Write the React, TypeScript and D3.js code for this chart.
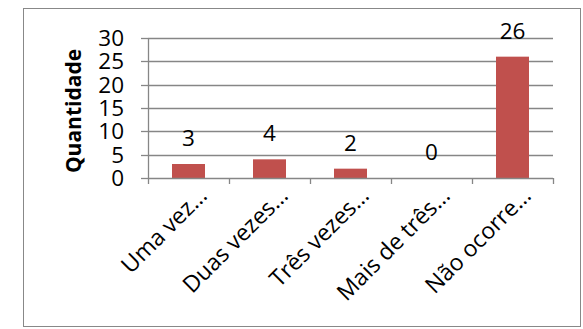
import React from "react";
import * as d3 from "d3";

const categories = ["Uma vez…", "Duas vezes…", "Três vezes…", "Mais de três…", "Não ocorre…"];
const values = [3, 4, 2, 0, 26];
const yTicks = [0, 5, 10, 15, 20, 25, 30];
const yTitle = "Quantidade";

export default function App() {
  const W = 583, H = 329;
  const band = d3.scaleBand().domain(categories).range([148, 553]);
  const y = d3.scaleLinear().domain([0, 30]).range([178, 38]);
  const font = "'Open Sans', sans-serif";
  const grid = "#868686";
  return (
    <svg width={W} height={H} style={{ position: "absolute", left: 0, top: 0 }}>
      <rect x={0} y={0} width={W} height={H} fill="#fff" />
      <rect x={23.5} y={8.5} width={557} height={318} fill="#fff" stroke="#888" strokeWidth={1} />
      {yTicks.map((t) => (
        <g key={t}>
          {t > 0 && <line x1={148} x2={553} y1={Math.round(y(t)) + 0.5} y2={Math.round(y(t)) + 0.5} stroke={grid} strokeWidth={1.3} />}
          <line x1={141} x2={148} y1={Math.round(y(t)) + 0.5} y2={Math.round(y(t)) + 0.5} stroke={grid} strokeWidth={1.3} />
          <text x={124} y={y(t)} dy="0.36em" textAnchor="end" fontFamily={font} fontSize={22.5} fill="#000">{t}</text>
        </g>
      ))}
      {values.map((v, i) => {
        const c = categories[i];
        const bx = band(c)! + band.bandwidth() / 2;
        const bw = 33;
        return (
          <g key={c}>
            <rect x={bx - bw / 2} y={y(v)} width={bw} height={y(0) - y(v)} fill="#C0504D" />
            <text x={bx} y={y(v) - 26} dy="0.36em" textAnchor="middle" fontFamily={font} fontSize={22.5} fill="#000">{v}</text>
          </g>
        );
      })}
      <line x1={148.5} x2={148.5} y1={38} y2={178} stroke={grid} strokeWidth={1.3} />
      <line x1={148} x2={553} y1={178.5} y2={178.5} stroke={grid} strokeWidth={1.3} />
      {[...categories.map((c) => band(c)!), 553].map((tx, i) => (
        <line key={i} x1={Math.round(tx) + 0.5} x2={Math.round(tx) + 0.5} y1={178} y2={184} stroke={grid} strokeWidth={1.3} />
      ))}
      {categories.map((c) => {
        const cx = band(c)! + band.bandwidth() / 2 + 20;
        const cy = 197;
        return (
          <text key={c} x={cx} y={cy} textAnchor="end" fontFamily={font} fontSize={23} fill="#000" transform={`rotate(-45 ${cx} ${cy})`}>{c}</text>
        );
      })}
      <text x={0} y={0} transform={`translate(81 111) rotate(-90)`} textAnchor="middle" fontFamily={font} fontWeight="bold" fontSize={21} fill="#000">{yTitle}</text>
    </svg>
  );
}
